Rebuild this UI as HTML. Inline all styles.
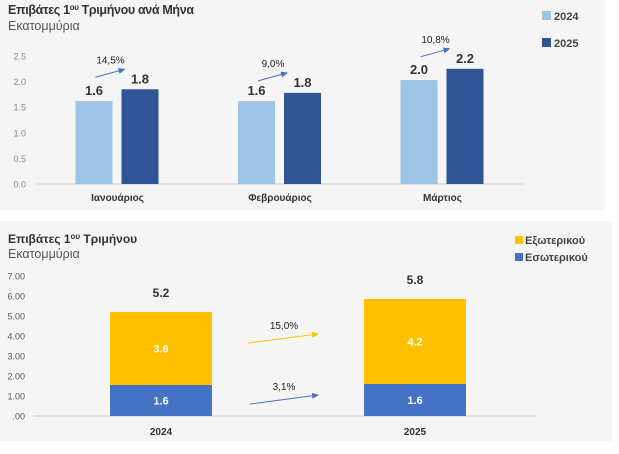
<!DOCTYPE html>
<html><head><meta charset="utf-8">
<style>
html,body{margin:0;padding:0;background:#fff;}
svg{display:block;font-family:"Liberation Sans","DejaVu Sans",sans-serif;}
</style></head>
<body>
<svg id="c" width="619" height="454" viewBox="0 0 619 454" xmlns="http://www.w3.org/2000/svg">
<defs>
<marker id="ab" markerWidth="8" markerHeight="8" refX="6" refY="3" orient="auto" markerUnits="userSpaceOnUse"><path d="M0,0 L7,3 L0,6 z" fill="#4472c4"/></marker>
<marker id="ay" markerWidth="8" markerHeight="8" refX="6" refY="3" orient="auto" markerUnits="userSpaceOnUse"><path d="M0,0 L7,3 L0,6 z" fill="#ffc000"/></marker>
</defs>
<rect x="0" y="0" width="605" height="210" fill="#f5f5f5"/>
<rect x="0" y="221" width="612" height="220" fill="#f5f5f5"/>
<text x="8" y="14" font-size="12.5" font-weight="bold" fill="#333" textLength="186">Επιβάτες 1<tspan font-size="8" dy="-4">ου</tspan><tspan dy="4"> Τριμήνου ανά Μήνα</tspan></text>
<text x="8" y="30" font-size="12.5" fill="#555">Εκατομμύρια</text>
<text x="8" y="243" font-size="12" font-weight="bold" fill="#333">Επιβάτες 1<tspan font-size="8" dy="-4">ου</tspan><tspan dy="4"> Τριμήνου</tspan></text>
<text x="8" y="258" font-size="12.5" fill="#555">Εκατομμύρια</text>
<rect x="542" y="11" width="9" height="9" fill="#9dc3e6"/>
<text x="554" y="20" font-size="11" font-weight="bold" fill="#444">2024</text>
<rect x="542" y="38" width="9" height="9" fill="#2f5597"/>
<text x="554" y="47" font-size="11" font-weight="bold" fill="#444">2025</text>
<rect x="515" y="236" width="8" height="8" fill="#ffc000"/>
<text x="525" y="244" font-size="11" font-weight="bold" fill="#444">Εξωτερικού</text>
<rect x="515" y="253" width="8" height="8" fill="#4472c4"/>
<text x="525" y="261" font-size="11" font-weight="bold" fill="#444">Εσωτερικού</text>
<g id="top"></g>
<g id="bot"></g>
</svg>
<script>
const months = ["Ιανουάριος","Φεβρουάριος","Μάρτιος"];
const v2024 = [1.62, 1.62, 2.03];
const v2025 = [1.85, 1.78, 2.25];
const labels2024 = ["1.6","1.6","2.0"];
const labels2025 = ["1.8","1.8","2.2"];
const monthGrowth = ["14,5%","9,0%","10,8%"];
const topTicks = [0,0.5,1,1.5,2,2.5];
const topTickLabels = ["0.0","0.5","1.0","1.5","2.0","2.5"];

const years = ["2024","2025"];
const domestic = [1.55, 1.6];
const exterior = [3.65, 4.25];
const domLabels = ["1.6","1.6"];
const extLabels = ["3.6","4.2"];
const totalLabels = ["5.2","5.8"];
const extGrowth = "15,0%";
const domGrowth = "3,1%";
const botTicks = [0,1,2,3,4,5,6,7];
const botTickLabels = [".00","1.00","2.00","3.00","4.00","5.00","6.00","7.00"];

const NS="http://www.w3.org/2000/svg";
function mk(p,tag,a,txt){const e=document.createElementNS(NS,tag);for(const k in a)e.setAttribute(k,a[k]);if(txt!=null)e.textContent=txt;p.appendChild(e);return e;}

const T=document.getElementById('top');
const ty=v=>184-v*51.2;
const tx=i=>117.5+i*162.5;
topTicks.forEach((t,i)=>{
  const e=mk(T,'text',{x:26,y:ty(t)+3.5,'font-size':9,fill:'#888','text-anchor':'end'},topTickLabels[i]);
  
  
});
const tax=mk(T,'line',{x1:37,x2:523,y1:184,y2:184,stroke:'#d0d0d0'});


months.forEach((m,i)=>{
  const c=tx(i);
  const b1=mk(T,'rect',{x:c-42,y:ty(v2024[i]),width:37,height:184-ty(v2024[i]),fill:'#9dc3e6'});
  
  
  const b2=mk(T,'rect',{x:c+4,y:ty(v2025[i]),width:37,height:184-ty(v2025[i]),fill:'#2f5597'});
  
  
  const l1=mk(T,'text',{x:c-23.5,y:ty(v2024[i])-6,'font-size':13,'font-weight':'bold',fill:'#333','text-anchor':'middle'},labels2024[i]);
  
  
  const l2=mk(T,'text',{x:c+22.5,y:ty(v2025[i])-6,'font-size':13,'font-weight':'bold',fill:'#333','text-anchor':'middle'},labels2025[i]);
  
  
  const top=Math.max(v2024[i],v2025[i]);
  const ay=ty(top)-12;
  const ar=mk(T,'line',{x1:c-22,y1:ay,x2:c+7,y2:ay-8,stroke:'#4472c4','stroke-width':1,'marker-end':'url(#ab)'});
  
  
  const g=mk(T,'text',{x:c-7,y:ay-14,'font-size':10,fill:'#222','text-anchor':'middle'},monthGrowth[i]);
  
  
  const cl=mk(T,'text',{x:c,y:201,'font-size':10,'font-weight':'bold',fill:'#333','text-anchor':'middle'},m);
  
  
});

const B=document.getElementById('bot');
const by=v=>416-v*20;
const bx=i=>161+i*254;
botTicks.forEach((t,i)=>{
  const e=mk(B,'text',{x:25,y:by(t)+3.5,'font-size':9,fill:'#555','text-anchor':'end'},botTickLabels[i]);
  
  
});
const bax=mk(B,'line',{x1:34,x2:536,y1:416,y2:416,stroke:'#d0d0d0'});


years.forEach((y,i)=>{
  const c=bx(i);
  const d=mk(B,'rect',{x:c-51,y:by(domestic[i]),width:102,height:416-by(domestic[i]),fill:'#4472c4'});
  
  
  const tot=domestic[i]+exterior[i];
  const e=mk(B,'rect',{x:c-51,y:by(tot),width:102,height:by(domestic[i])-by(tot),fill:'#ffc000'});
  
  
  const dl=mk(B,'text',{x:c,y:(by(domestic[i])+416)/2+4,'font-size':11,'font-weight':'bold',fill:'#fff','text-anchor':'middle'},domLabels[i]);
  
  
  const el=mk(B,'text',{x:c,y:(by(domestic[i])+by(tot))/2+4,'font-size':11,'font-weight':'bold',fill:'#fff','text-anchor':'middle'},extLabels[i]);
  
  
  const tl=mk(B,'text',{x:c,y:by(tot)-15,'font-size':12,'font-weight':'bold',fill:'#333','text-anchor':'middle'},totalLabels[i]);
  
  
  const cl=mk(B,'text',{x:c,y:435,'font-size':10,'font-weight':'bold',fill:'#333','text-anchor':'middle'},y);
  
  
});
const ya=mk(B,'line',{x1:248,y1:343,x2:318,y2:334,stroke:'#ffc000','stroke-width':1,'marker-end':'url(#ay)'});


const yl=mk(B,'text',{x:284,y:329,'font-size':10,fill:'#222','text-anchor':'middle'},extGrowth);


const ba=mk(B,'line',{x1:250,y1:404,x2:318,y2:395,stroke:'#4472c4','stroke-width':1,'marker-end':'url(#ab)'});


const bl=mk(B,'text',{x:284,y:390,'font-size':10,fill:'#222','text-anchor':'middle'},domGrowth);


</script>
</body></html>
